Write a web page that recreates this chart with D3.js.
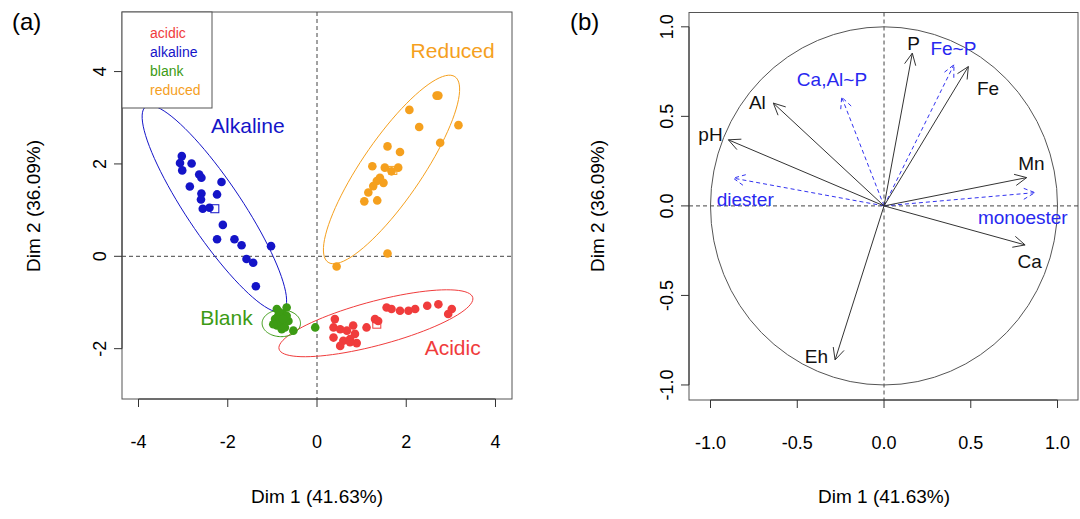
<!DOCTYPE html>
<html><head><meta charset="utf-8">
<script src="https://cdn.jsdelivr.net/npm/d3@7"></script>
<style>body{margin:0;background:#fff}text{font-family:"Liberation Sans",Arial,sans-serif}</style>
</head><body><svg id="c" width="1080" height="519"></svg>
<script>
// ---- panel (a) data ----
var groups = ["acidic", "alkaline", "blank", "reduced"];
var groupColors = ["#f03c3c", "#1414c8", "#3c9b14", "#f5a01e"];
var acidic = [[1.56,-1.11],[1.67,-1.14],[1.86,-1.18],[2.05,-1.18],[2.20,-1.14],[2.47,-1.07],[2.72,-1.04],[3.02,-1.14],[2.94,-1.25],[1.30,-1.36],[1.37,-1.40],[0.40,-1.36],[1.11,-1.54],[0.81,-1.50],[0.37,-1.54],[0.52,-1.58],[0.67,-1.61],[0.85,-1.68],[0.37,-1.76],[0.74,-1.79],[0.59,-1.83],[0.89,-1.88],[0.52,-1.94],[0.74,-1.86]];
var alkaline = [[-3.03,2.17],[-3.07,2.02],[-2.81,2.01],[-3.02,1.86],[-2.64,1.77],[-2.59,1.70],[-2.14,1.61],[-2.85,1.51],[-2.59,1.36],[-2.24,1.34],[-2.60,1.23],[-2.56,1.03],[-2.41,1.05],[-2.11,0.68],[-2.24,0.37],[-1.85,0.37],[-1.69,0.24],[-1.03,0.22],[-1.58,-0.06],[-1.43,-0.14],[-1.37,-0.65]];
var blank = [[-0.90,-1.14],[-0.68,-1.11],[-0.76,-1.25],[-0.94,-1.36],[-0.83,-1.43],[-0.64,-1.40],[-0.90,-1.50],[-0.79,-1.58],[-0.72,-1.54],[-0.53,-1.61],[-0.04,-1.54],[-0.87,-1.29],[-0.68,-1.29],[-0.98,-1.47],[-0.76,-1.36],[-0.85,-1.20]];
var reduced = [[2.68,3.48],[2.72,3.48],[2.07,3.17],[2.29,2.80],[3.17,2.84],[2.76,2.46],[1.58,2.38],[1.86,2.26],[1.24,1.95],[1.52,1.92],[1.82,1.92],[1.67,1.84],[1.41,1.70],[1.34,1.63],[1.49,1.59],[1.26,1.52],[1.15,1.38],[1.06,1.19],[1.35,1.21],[1.58,0.06],[0.44,-0.22]];
var groupPoints = [acidic, alkaline, blank, reduced];
var groupCenters = [[1.34,-1.47],[-2.29,1.03],[-0.80,-1.38],[1.70,1.86]];
// ellipse: center, half-axis vector A, half-axis vector B (data units)
var ellipses = [
  [[1.32,-1.45],[2.17,0.56],[0.13,-0.46]],
  [[-2.30,1.03],[1.54,-2.21],[0.50,0.35]],
  [[-0.80,-1.45],[0.43,0],[0,0.29]],
  [[1.67,1.88],[1.42,2.01],[0.56,-0.36]]
];
var groupLabels = ["Acidic", "Alkaline", "Blank", "Reduced"];
var groupLabelPos = [[3.04,-2.14],[-1.55,2.68],[-2.03,-1.49],[3.04,4.30]];
var xTicksA = [-4, -2, 0, 2, 4];
var yTicksA = [-2, 0, 2, 4];

// ---- panel (b) data ----
var vars = ["P", "Fe", "Al", "pH", "Mn", "Ca", "Eh"];
var varXY = [[0.163,0.853],[0.486,0.778],[-0.638,0.574],[-0.897,0.369],[0.822,0.158],[0.813,-0.218],[-0.282,-0.860]];
var varLab = [[0.17,0.91],[0.60,0.66],[-0.73,0.58],[-1.00,0.40],[0.85,0.24],[0.84,-0.31],[-0.39,-0.84]];
var supp = ["Ca,Al~P", "Fe~P", "diester", "monoester"];
var suppXY = [[-0.244,0.607],[0.403,0.788],[-0.869,0.155],[0.870,0.074]];
var suppLab = [[-0.30,0.71],[0.40,0.88],[-0.80,0.04],[0.80,-0.06]];
var ticksB = [-1.0, -0.5, 0.0, 0.5, 1.0];

var svg = d3.select("#c");

function rAxes(g, x, y, xt, yt, fmt) {
  var x0 = x.range()[0], x1 = x.range()[1], y0 = y.range()[0], y1 = y.range()[1];
  g.append("rect").attr("x", x0).attr("y", y1).attr("width", x1 - x0).attr("height", y0 - y1)
    .attr("fill", "none").attr("stroke", "#555");
  g.append("line").attr("x1", x(xt[0])).attr("x2", x(xt[xt.length-1])).attr("y1", y0).attr("y2", y0).attr("stroke", "#333");
  g.append("line").attr("y1", y(yt[0])).attr("y2", y(yt[yt.length-1])).attr("x1", x0).attr("x2", x0).attr("stroke", "#333");
  xt.forEach(function(t) {
    g.append("line").attr("x1", x(t)).attr("x2", x(t)).attr("y1", y0).attr("y2", y0 + 8).attr("stroke", "#333");
    g.append("text").attr("x", x(t)).attr("y", y0 + 49).attr("text-anchor", "middle").attr("font-size", 18).text(fmt(t));
  });
  yt.forEach(function(t) {
    g.append("line").attr("y1", y(t)).attr("y2", y(t)).attr("x1", x0).attr("x2", x0 - 8).attr("stroke", "#333");
    g.append("text").attr("transform", "translate(" + (x0 - 16) + "," + y(t) + ") rotate(-90)")
      .attr("text-anchor", "middle").attr("font-size", 18).text(fmt(t));
  });
  g.append("line").attr("x1", x(0)).attr("x2", x(0)).attr("y1", y1).attr("y2", y0).attr("stroke", "#444").attr("stroke-dasharray", "4,3");
  g.append("line").attr("x1", x0).attr("x2", x1).attr("y1", y(0)).attr("y2", y(0)).attr("stroke", "#444").attr("stroke-dasharray", "4,3");
}
var fmtA = function(t) { return t < 0 ? "-" + Math.abs(t) : String(t); };
var fmtB = function(t) { return t < 0 ? "-" + Math.abs(t).toFixed(1) : t.toFixed(1); };

// ---- panel a ----
var xA = d3.scaleLinear().domain([-4.37, 4.37]).range([122, 512]);
var yA = d3.scaleLinear().domain([-3.09, 5.29]).range([399, 12]);
var gA = svg.append("g");
rAxes(gA, xA, yA, xTicksA, yTicksA, fmtA);
var line = d3.line().x(function(d) { return xA(d[0]); }).y(function(d) { return yA(d[1]); });
ellipses.forEach(function(e, i) {
  var pts = d3.range(0, 361, 4).map(function(a) {
    var t = a * Math.PI / 180;
    return [e[0][0] + Math.cos(t) * e[1][0] + Math.sin(t) * e[2][0], e[0][1] + Math.cos(t) * e[1][1] + Math.sin(t) * e[2][1]];
  });
  gA.append("path").attr("d", line(pts)).attr("fill", "none").attr("stroke", groupColors[i]).attr("stroke-width", 1);
});
groupPoints.forEach(function(pts, i) {
  var c = groupCenters[i];
  gA.append("rect").attr("x", xA(c[0]) - 4).attr("y", yA(c[1]) - 4).attr("width", 8).attr("height", 8)
    .attr("fill", "#fff").attr("stroke", groupColors[i]);
  gA.selectAll(null).data(pts).enter().append("circle")
    .attr("cx", function(d) { return xA(d[0]); }).attr("cy", function(d) { return yA(d[1]); })
    .attr("r", 4.3).attr("fill", groupColors[i]);
  gA.append("text").attr("x", xA(groupLabelPos[i][0])).attr("y", yA(groupLabelPos[i][1]))
    .attr("text-anchor", "middle").attr("font-size", 21).attr("fill", groupColors[i]).text(groupLabels[i]);
});
gA.append("rect").attr("x", 122).attr("y", 12).attr("width", 90).attr("height", 96).attr("fill", "#fff").attr("stroke", "#555");
groups.forEach(function(g, i) {
  gA.append("text").attr("x", 150).attr("y", 38 + i * 19).attr("font-size", 14).attr("fill", groupColors[i]).text(g);
});
svg.append("text").attr("x", 317).attr("y", 503).attr("text-anchor", "middle").attr("font-size", 19).text("Dim 1 (41.63%)");
svg.append("text").attr("transform", "translate(40,206) rotate(-90)").attr("text-anchor", "middle").attr("font-size", 19).text("Dim 2 (36.09%)");
svg.append("text").attr("x", 12).attr("y", 30).attr("font-size", 24).text("(a)");

// ---- panel b ----
var xB = d3.scaleLinear().domain([-1.124, 1.118]).range([689, 1078]);
var yB = d3.scaleLinear().domain([-1.084, 1.08]).range([400, 12.5]);
var gB = svg.append("g");
rAxes(gB, xB, yB, ticksB, ticksB, fmtB);
gB.append("ellipse").attr("cx", xB(0)).attr("cy", yB(0)).attr("rx", xB(1) - xB(0)).attr("ry", yB(0) - yB(1))
  .attr("fill", "none").attr("stroke", "#555");
function arrow(g, d, color, dash) {
  var x1 = xB(d[0]), y1 = yB(d[1]), x0 = xB(0), y0 = yB(0);
  var ang = Math.atan2(y1 - y0, x1 - x0), h = 13, s = 0.45;
  g.append("line").attr("x1", x0).attr("y1", y0).attr("x2", x1).attr("y2", y1)
    .attr("stroke", color).attr("stroke-dasharray", dash);
  g.append("path").attr("d", "M" + (x1 - h * Math.cos(ang - s)) + "," + (y1 - h * Math.sin(ang - s)) +
    "L" + x1 + "," + y1 + "L" + (x1 - h * Math.cos(ang + s)) + "," + (y1 - h * Math.sin(ang + s)))
    .attr("fill", "none").attr("stroke", color).attr("stroke-dasharray", dash);
}
suppXY.forEach(function(d, i) {
  arrow(gB, d, "#3232f0", "4,3");
  gB.append("text").attr("x", xB(suppLab[i][0])).attr("y", yB(suppLab[i][1]) + 7).attr("text-anchor", "middle")
    .attr("font-size", 19).attr("fill", "#2828f0").text(supp[i]);
});
varXY.forEach(function(d, i) {
  arrow(gB, d, "#333", null);
  gB.append("text").attr("x", xB(varLab[i][0])).attr("y", yB(varLab[i][1]) + 7).attr("text-anchor", "middle")
    .attr("font-size", 19).attr("fill", "#111").text(vars[i]);
});
svg.append("text").attr("x", 884).attr("y", 503).attr("text-anchor", "middle").attr("font-size", 19).text("Dim 1 (41.63%)");
svg.append("text").attr("transform", "translate(604,206) rotate(-90)").attr("text-anchor", "middle").attr("font-size", 19).text("Dim 2 (36.09%)");
svg.append("text").attr("x", 570).attr("y", 30).attr("font-size", 24).text("(b)");
</script></body></html>
